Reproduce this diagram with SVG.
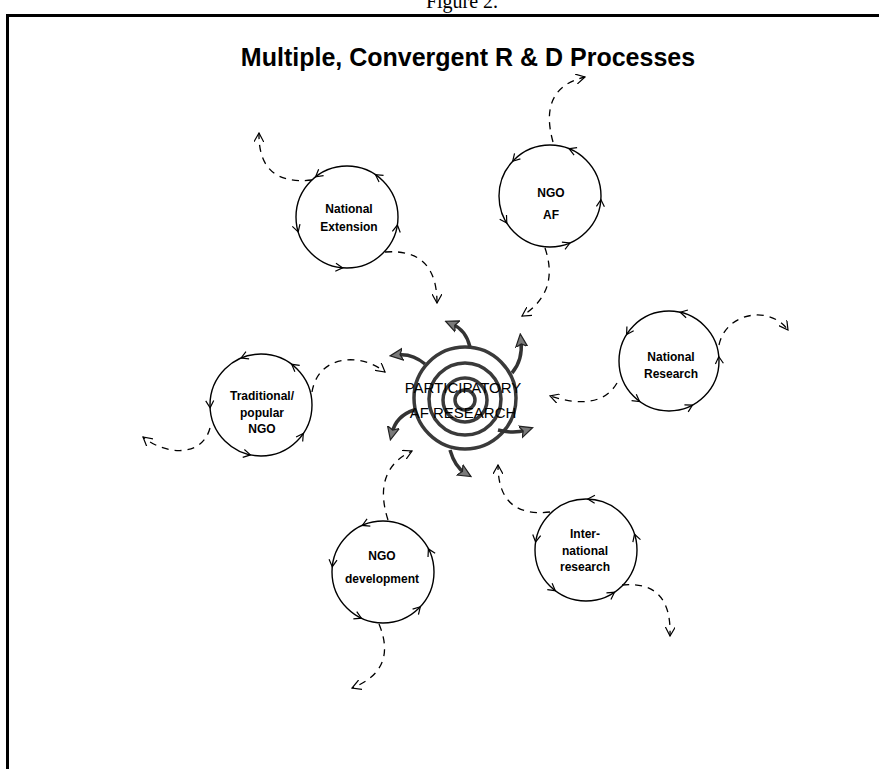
<svg xmlns="http://www.w3.org/2000/svg" xmlns:xlink="http://www.w3.org/1999/xlink" width="879" height="769" viewBox="0 0 879 769">
<style>
.frame{stroke:#000;stroke-width:3;fill:none}
.loop{fill:none;stroke:#000;stroke-width:1.4}
.chev{fill:none;stroke:#000;stroke-width:1.2;stroke-linejoin:miter}
.dash{fill:none;stroke:#000;stroke-width:1.3;stroke-dasharray:7 6;marker-end:url(#open)}
.lbl{font-family:"Liberation Sans",Arial,sans-serif;font-weight:bold;font-size:12px;text-anchor:middle;fill:#000}
.ring{fill:none;stroke:#3a3a3a;stroke-width:3.5}
.ray{fill:none;stroke:#333;stroke-width:3.5;marker-end:url(#fat)}
.ctr{font-family:"Liberation Sans",Arial,sans-serif;font-size:15px;text-anchor:middle;fill:#000}
</style>
<defs>
<marker id="open" viewBox="0 0 10 10" refX="9" refY="5" markerWidth="10" markerHeight="10" markerUnits="userSpaceOnUse" orient="auto">
<path d="M0,0 L9,5 L0,10" fill="none" stroke="#000" stroke-width="1.2"/>
</marker>
<marker id="fat" viewBox="0 0 14 14" refX="6" refY="7" markerWidth="14" markerHeight="14" markerUnits="userSpaceOnUse" orient="auto">
<path d="M0,1 L13,7 L0,13 L3,7 z" fill="#7a7a7a" stroke="#222" stroke-width="1.2"/>
</marker>
<path id="chv" class="chev" d="M-7,-4 L0,0 L-7,4"/>
</defs>
<rect width="879" height="769" fill="#fff"/>
<text x="462" y="8" font-family="Liberation Serif,serif" font-size="20" text-anchor="middle">Figure 2.</text>
<path class="frame" d="M7.5,769 L7.5,15.5 L879,15.5"/>
<text x="468" y="66" font-family="Liberation Sans,Arial,sans-serif" font-weight="bold" font-size="25" text-anchor="middle">Multiple, Convergent R &amp; D Processes</text>

<g id="connectors">
<path class="dash" d="M312,180 Q258,186 259,133"/>
<path class="dash" d="M385,252 Q437,248 437,303"/>
<path class="dash" d="M553,142 Q538,88 585,77"/>
<path class="dash" d="M545,248 Q560,292 522,316"/>
<path class="dash" d="M719,345 C726,312 770,305 788,330"/>
<path class="dash" d="M617,383 Q600,412 550,396"/>
<path class="dash" d="M312,392 C318,355 360,352 385,372"/>
<path class="dash" d="M210,428 C202,458 165,455 143,437"/>
<path class="dash" d="M388,520 Q372,470 412,451"/>
<path class="dash" d="M379,624 Q398,670 352,688"/>
<path class="dash" d="M550,512 Q498,518 498,465"/>
<path class="dash" d="M622,585 Q672,580 670,636"/>
</g>

<g id="national-extension">
<circle class="loop" cx="347" cy="217" r="51"/>
<use href="#chv" transform="translate(375.5,174.7) rotate(-146)"/>
<use href="#chv" transform="translate(315.6,176.8) rotate(142)"/>
<use href="#chv" transform="translate(298.2,231.9) rotate(73)"/>
<use href="#chv" transform="translate(342.6,267.8) rotate(5)"/>
<use href="#chv" transform="translate(397.4,225) rotate(-81)"/>
<text class="lbl" x="349" y="213">National</text>
<text class="lbl" x="349" y="231">Extension</text>
</g>

<g id="ngo-af">
<circle class="loop" cx="550" cy="196" r="51"/>
<use href="#chv" transform="translate(569.1,148.7) rotate(-158)"/>
<use href="#chv" transform="translate(512.7,161.2) rotate(133)"/>
<use href="#chv" transform="translate(506.8,223) rotate(58)"/>
<use href="#chv" transform="translate(569.9,243) rotate(-23)"/>
<use href="#chv" transform="translate(600.9,199.6) rotate(-86)"/>
<text class="lbl" x="551" y="197" font-size="13">NGO</text>
<text class="lbl" x="551" y="219" font-size="10">AF</text>
</g>

<g id="national-research">
<circle class="loop" cx="669" cy="361" r="50"/>
<use href="#chv" transform="translate(680.2,312.3) rotate(-167)"/>
<use href="#chv" transform="translate(626.6,334.5) rotate(122)"/>
<use href="#chv" transform="translate(639.6,401.5) rotate(36)"/>
<use href="#chv" transform="translate(692.5,405.1) rotate(-28)"/>
<use href="#chv" transform="translate(718.8,356.6) rotate(-95)"/>
<text class="lbl" x="671" y="361">National</text>
<text class="lbl" x="671" y="378">Research</text>
</g>

<g id="traditional-popular-ngo">
<circle class="loop" cx="261" cy="405" r="51"/>
<use href="#chv" transform="translate(241.1,358) rotate(157)"/>
<use href="#chv" transform="translate(291.7,364.3) rotate(-143)"/>
<use href="#chv" transform="translate(210.1,407.7) rotate(87)"/>
<use href="#chv" transform="translate(250.4,454.9) rotate(12)"/>
<use href="#chv" transform="translate(303.3,433.5) rotate(-56)"/>
<text class="lbl" x="262" y="400">Traditional/</text>
<text class="lbl" x="262" y="417">popular</text>
<text class="lbl" x="262" y="433">NGO</text>
</g>

<g id="ngo-development">
<circle class="loop" cx="383" cy="572" r="51"/>
<use href="#chv" transform="translate(362.3,525.4) rotate(156)"/>
<use href="#chv" transform="translate(428.4,548.9) rotate(-117)"/>
<use href="#chv" transform="translate(332.3,566.7) rotate(96)"/>
<use href="#chv" transform="translate(361.4,618.2) rotate(25)"/>
<use href="#chv" transform="translate(420.3,606.8) rotate(-47)"/>
<text class="lbl" x="382" y="560" font-size="13">NGO</text>
<text class="lbl" x="382" y="583">development</text>
</g>

<g id="international-research">
<circle class="loop" cx="586" cy="550" r="51"/>
<use href="#chv" transform="translate(587.8,499) rotate(-178)"/>
<use href="#chv" transform="translate(535.6,542) rotate(99)"/>
<use href="#chv" transform="translate(555.3,590.7) rotate(37)"/>
<use href="#chv" transform="translate(614.5,592.3) rotate(-34)"/>
<use href="#chv" transform="translate(634.5,534.2) rotate(-108)"/>
<text class="lbl" x="585" y="538">Inter-</text>
<text class="lbl" x="585" y="555">national</text>
<text class="lbl" x="585" y="571">research</text>
</g>

<g id="participatory-af-research">
<circle class="ring" cx="465" cy="398" r="51"/>
<circle class="ring" cx="465" cy="399" r="36" stroke-width="3"/>
<circle class="ring" cx="465" cy="400" r="22" stroke-width="3" stroke="#555"/>
<circle class="ring" cx="465" cy="400" r="10" stroke-width="2.5" stroke="#666"/>
<path class="ray" d="M470,347 Q466,330 452,324"/>
<path class="ray" d="M425,364 Q412,353 397,355"/>
<path class="ray" d="M512,373 Q523,360 521,341"/>
<path class="ray" d="M414,410 Q396,416 392,433"/>
<path class="ray" d="M498,430 Q514,434 526,430"/>
<path class="ray" d="M450,450 Q455,467 465,473"/>
<text class="ctr" x="463" y="393">PARTICIPATORY</text>
<text class="ctr" x="463" y="418">AF RESEARCH</text>
</g>
</svg>
